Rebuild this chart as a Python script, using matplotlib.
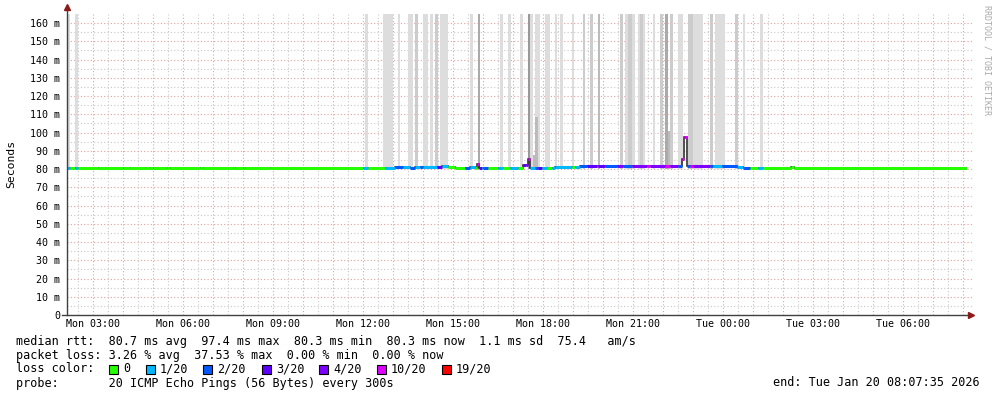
import matplotlib
matplotlib.use("Agg")
import matplotlib.pyplot as plt
from matplotlib.patches import Rectangle

# ---------------- data (hours since Mon 00:00) ----------------
t_start, t_end = 2.133, 32.133

med_start = [2.13, 2.23, 2.40, 2.50, 3.17, 4.00, 4.23, 4.73, 4.90, 5.00, 5.47, 5.57,
             6.57, 6.67, 7.67, 7.73, 8.00, 8.07, 8.90, 12.00, 12.17, 12.73, 13.07, 13.33,
             13.57, 13.73, 13.90, 14.00, 14.47, 14.63, 14.83, 15.07, 15.40, 15.57, 15.73,
             15.80, 15.87, 15.97, 16.00, 16.17, 16.50, 16.67, 16.90, 17.17, 17.33, 17.43,
             17.50, 17.57, 17.73, 17.83, 17.97, 18.13, 18.30, 18.40, 18.97, 19.07, 19.23,
             19.47, 19.80, 19.83, 20.07, 20.47, 20.67, 20.97, 21.47, 21.57, 22.07, 22.23,
             22.50, 22.63, 22.70, 22.80, 22.90, 23.00, 23.57, 23.67, 23.97, 24.47, 24.67,
             24.90, 25.17, 25.33, 26.27, 26.37]
med_value = [80.8, 80.4, 80.8, 80.4, 80.7, 80.4, 80.7, 80.4, 80.7, 80.4, 80.7, 80.4,
             80.7, 80.4, 80.8, 80.4, 80.8, 80.4, 80.6, 80.7, 80.6, 80.8, 81.0, 80.9,
             80.8, 81.0, 80.9, 81.1, 81.3, 81.6, 81.3, 80.8, 80.7, 80.9, 80.8,
             82.7, 80.6, 80.7, 80.6, 80.5, 80.5, 80.6, 80.5, 80.6, 82.0, 82.5,
             85.5, 80.6, 80.6, 80.7, 80.7, 80.6, 80.8, 81.3, 81.3, 81.3, 81.5,
             81.5, 81.6, 81.8, 81.8, 81.8, 81.7, 81.8, 81.8, 81.7, 81.8, 81.7,
             81.6, 85.5, 97.4, 81.8, 81.9, 81.9, 81.7, 81.9, 81.6, 81.3, 80.7,
             80.5, 80.4, 80.4, 80.9, 80.4]
med_loss = [1, 0, 1, 0, 0, 0, 0, 0, 0, 0, 0, 0,
            0, 0, 0, 0, 0, 0, 0, 1, 0, 1, 2, 1,
            2, 1, 2, 1, 3, 1, 0, 0, 2, 1, 0,
            10, 3, 1, 2, 0, 1, 0, 1, 0, 3, 4,
            10, 1, 2, 3, 1, 0, 1, 1, 0, 1, 2,
            3, 10, 3, 2, 4, 2, 4, 10, 4, 10, 4,
            2, 10, 10, 2, 10, 4, 2, 1, 2, 1, 2,
            0, 1, 0, 0, 0]

smoke_start = [2.13, 2.40, 12.07, 12.67, 13.17, 13.50, 13.73, 14.00, 14.23, 14.40, 14.57,
               15.57, 15.83, 16.57, 16.83, 17.23, 17.50, 17.57, 17.73, 17.67, 17.73, 18.07,
               18.40, 18.57, 18.97, 19.33, 19.57, 19.83, 20.57, 20.73, 20.83, 21.17, 21.23,
               21.67, 21.90, 22.07, 22.17, 22.23, 22.50, 22.83, 23.00, 23.57, 23.73, 24.40,
               24.67, 25.23]
smoke_end = [2.23, 2.50, 12.17, 13.00, 13.23, 13.67, 13.83, 14.17, 14.33, 14.50, 14.83,
             15.67, 15.90, 16.67, 16.93, 17.33, 17.57, 17.67, 17.90, 17.73, 17.83, 18.23,
             18.47, 18.67, 19.03, 19.40, 19.67, 19.90, 20.67, 21.07, 20.97, 21.40, 21.33,
             21.73, 22.00, 22.17, 22.23, 22.33, 22.67, 23.00, 23.33, 23.67, 24.07, 24.50,
             24.73, 25.33]
smoke_top = [170, 170, 170, 170, 170, 170, 170, 170, 170, 170, 170,
             170, 170, 170, 170, 170, 170, 170, 170, 87.7, 108.5, 170,
             170, 170, 170, 170, 170, 170, 170, 170, 170, 170, 170,
             170, 170, 170, 101, 170, 170, 170, 170, 170, 170, 170,
             170, 170]
smoke_level = [1, 1, 1, 1, 1, 1, 2, 1, 1, 2, 1,
               1, 4, 1, 1, 1, 5, 1, 1, 3, 3, 1,
               1, 1, 1, 2, 2, 3, 2, 1, 2, 1, 2,
               1, 2, 4, 3, 2, 1, 2, 1, 2, 1, 2,
               1, 1]
smoke_bottom = 80.0

loss_levels = [0, 1, 2, 3, 4, 10, 19]
loss_labels = ["0", "1/20", "2/20", "3/20", "4/20", "10/20", "19/20"]

x_ticks = [3, 6, 9, 12, 15, 18, 21, 24, 27, 30]
x_labels = ["Mon 03:00", "Mon 06:00", "Mon 09:00", "Mon 12:00", "Mon 15:00",
            "Mon 18:00", "Mon 21:00", "Tue 00:00", "Tue 03:00", "Tue 06:00"]
y_ticks = list(range(0, 161, 10))
y_labels = ["0"] + [f"{v} m" for v in y_ticks[1:]]

line_rtt = "median rtt:  80.7 ms avg  97.4 ms max  80.3 ms min  80.3 ms now  1.1 ms sd  75.4   am/s"
line_loss = "packet loss: 3.26 % avg  37.53 % max  0.00 % min  0.00 % now"
line_probe = "probe:       20 ICMP Echo Pings (56 Bytes) every 300s"
line_end = "end: Tue Jan 20 08:07:35 2026"

# ---------------- style ----------------
loss_color = {0: "#26ff00", 1: "#00b8ff", 2: "#0059ff", 3: "#5e00ff",
              4: "#7e00ff", 10: "#dd00ff", 19: "#ff0000"}
smoke_color = {1: "#dddddd", 2: "#cccccc", 3: "#bbbbbb", 4: "#aaaaaa", 5: "#999999"}
MONO = "DejaVu Sans Mono"
W, H = 997, 397

fig = plt.figure(figsize=(W / 100, H / 100), dpi=100)
fig.patch.set_facecolor("white")
L, R, T, B = 67, 967, 14, 315
ax = fig.add_axes([L / W, 1 - B / H, (R - L) / W, (B - T) / H])
ax.set_xlim(t_start, t_end)
ax.set_ylim(0, 165)
for s in ax.spines.values():
    s.set_visible(False)

# grid
minor_x = [x / 2 for x in range(5, 65)]
for xv in minor_x:
    if t_start < xv <= t_end + 0.1:
        major = (xv % 1 == 0)
        ax.axvline(xv, color="#e4a0a0" if major else "#c8c8c8", lw=0.8,
                   ls=(0, (1, 2)), zorder=0, clip_on=False)
for yv in range(5, 165, 5):
    major = (yv % 10 == 0)
    ax.axhline(yv, color="#e4a0a0" if major else "#c8c8c8", lw=0.8,
               ls=(0, (1, 2)), zorder=0, xmax=1.006, clip_on=False)

# smoke
for s0, s1, top, lev in zip(smoke_start, smoke_end, smoke_top, smoke_level):
    ax.bar(s0, top - smoke_bottom, width=s1 - s0, bottom=smoke_bottom, align="edge",
           color=smoke_color[lev], linewidth=0, zorder=1)

# median: dark step connector + loss-coloured segments
edges = med_start + [t_end]
ax.stairs(med_value, edges, baseline=None, color="#202020", lw=1.1, zorder=2)
for i, (s0, v, lo) in enumerate(zip(med_start, med_value, med_loss)):
    s1 = edges[i + 1]
    ax.hlines(v, s0, s1, color=loss_color[lo], lw=2.2, zorder=3)

# ticks
ax.set_xticks(x_ticks)
ax.set_xticklabels(x_labels, fontfamily=MONO, fontsize=7.2)
ax.set_yticks(y_ticks)
ax.set_yticklabels(y_labels, fontfamily=MONO, fontsize=7.2)
ax.tick_params(axis="y", length=0, pad=5)
ax.tick_params(axis="x", length=0, pad=3)

# axes lines with arrows
ax.plot([0, 0], [0, 1 + 8 / 301], transform=ax.transAxes, color="#404040", lw=1,
        clip_on=False, zorder=5)
ax.plot([-5 / 900, 1 + 3 / 900], [0, 0], transform=ax.transAxes, color="#404040", lw=1,
        clip_on=False, zorder=5)
ax.plot([0], [1 + 7 / 301], transform=ax.transAxes, marker="^", color="#8b1a1a",
        markersize=4, clip_on=False, zorder=6)
ax.plot([1 + 4 / 900], [0], transform=ax.transAxes, marker=">", color="#8b1a1a",
        markersize=4, clip_on=False, zorder=6)

def ftext(x, y, s, **kw):
    kw.setdefault("fontfamily", MONO)
    kw.setdefault("fontsize", 8.5)
    kw.setdefault("va", "center")
    fig.text(x / W, 1 - y / H, s, **kw)

ftext(11, 164, "Seconds", rotation=90, ha="center", fontsize=8.2)
ftext(987, 5, "RRDTOOL / TOBI OETIKER", rotation=270, ha="center", va="top",
      fontsize=6, color="#aaaaaa")

ftext(16, 341, line_rtt)
ftext(16, 355, line_loss)
ftext(16, 369, "loss color:")
ftext(16, 383, line_probe)
ftext(980, 383, line_end, ha="right")

sq_x = [109, 146, 203, 262, 319, 377, 442]
for xs, lev, lab in zip(sq_x, loss_levels, loss_labels):
    fig.add_artist(Rectangle((xs / W, 1 - 374 / H), 9 / W, 9 / H,
                             transform=fig.transFigure, facecolor=loss_color[lev],
                             edgecolor="black", lw=0.8))
    ftext(xs + 14, 369, lab)

fig.savefig("out.png", dpi=100)
